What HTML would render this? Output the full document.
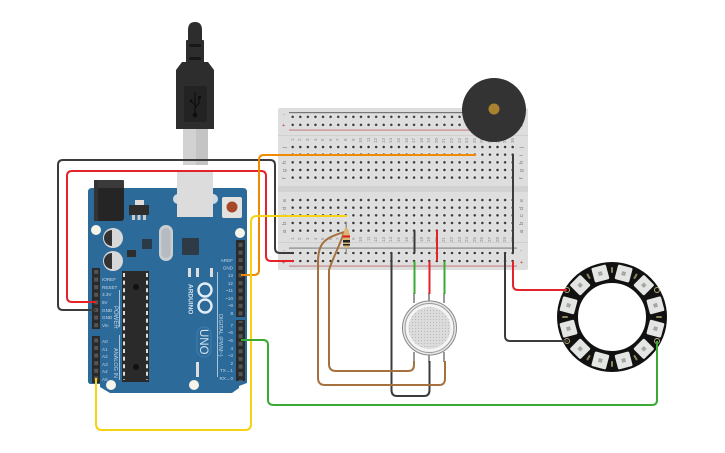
<!DOCTYPE html>
<html><head><meta charset="utf-8"><style>
html,body{margin:0;padding:0;background:#fff}
#w{position:relative;width:725px;height:453px;overflow:hidden;font-family:"Liberation Sans",sans-serif}
svg{position:absolute;left:0;top:0}
.n{position:absolute;left:288.9px;display:flex;height:8px}
.n i{display:block;width:7.586px;font:normal 4.5px/7.586px "Liberation Sans",sans-serif;color:#8a8a8a;writing-mode:vertical-rl;transform:rotate(180deg);text-align:center}
text{font-family:"Liberation Sans",sans-serif}
.b{font-size:4.6px;fill:#c6d9e7}
.e{font-size:5.5px;fill:#777}
.w{fill:none;stroke-width:2;stroke-linejoin:round;stroke-linecap:butt}
</style></head><body><div id="w">
<svg width="725" height="453">
<defs>
<pattern id="d" width="7.586" height="7.65" patternUnits="userSpaceOnUse" x="288.9" y="143.2"><circle cx="3.8" cy="3.8" r="2.4" fill="#e8e8e8"/><circle cx="3.8" cy="3.8" r="1.3" fill="#3a3a3a"/></pattern>
<pattern id="d2" width="7.586" height="7.65" patternUnits="userSpaceOnUse" x="288.9" y="196.2"><circle cx="3.8" cy="3.8" r="2.4" fill="#e8e8e8"/><circle cx="3.8" cy="3.8" r="1.3" fill="#3a3a3a"/></pattern>
<pattern id="r" width="7.586" height="8" patternUnits="userSpaceOnUse" x="288.9" y="112.8"><circle cx="3.8" cy="4" r="2.4" fill="#e8e8e8"/><circle cx="3.8" cy="4" r="1.3" fill="#3a3a3a"/></pattern>
<pattern id="r2" width="7.586" height="8" patternUnits="userSpaceOnUse" x="288.9" y="249"><circle cx="3.8" cy="4" r="2.4" fill="#e8e8e8"/><circle cx="3.8" cy="4" r="1.3" fill="#3a3a3a"/></pattern>
</defs>
<rect x="278" y="108" width="250" height="162" rx="2" fill="#dedede"/>
<rect x="278" y="135" width="250" height="1" fill="#d0d0d0"/>
<rect x="278" y="186" width="250" height="6" fill="#d2d2d2"/>
<rect x="278" y="242" width="250" height="1" fill="#d0d0d0"/>
<rect x="289" y="112" width="224" height="1.2" fill="#777"/>
<rect x="289" y="129.5" width="224" height="1.2" fill="#c98a8a"/>
<rect x="289" y="247.5" width="228" height="1.2" fill="#8a8a8a"/>
<rect x="289" y="265.5" width="228" height="1.2" fill="#c98a8a"/>
<rect x="288.9" y="112.8" width="227.6" height="16" fill="url(#r)"/>
<rect x="288.9" y="249" width="227.6" height="16" fill="url(#r2)"/>
<rect x="288.9" y="143.2" width="227.6" height="38.25" fill="url(#d)"/>
<rect x="288.9" y="196.2" width="227.6" height="38.25" fill="url(#d2)"/>
<text class="e" x="283" y="116">-</text><text class="e" x="282" y="127" style="fill:#b33">+</text>
<text class="e" x="520" y="116">-</text><text class="e" x="520" y="127" style="fill:#b33">+</text>
<text class="e" x="283" y="252">-</text><text class="e" x="282" y="264" style="fill:#b33">+</text>
<text class="e" x="520" y="252">-</text><text class="e" x="520" y="264" style="fill:#b33">+</text>
<text class="e" transform="translate(286,148) rotate(-90)">j</text><text class="e" transform="translate(286,156) rotate(-90)">i</text><text class="e" transform="translate(286,164) rotate(-90)">h</text><text class="e" transform="translate(286,172) rotate(-90)">g</text><text class="e" transform="translate(286,179) rotate(-90)">f</text>
<text class="e" transform="translate(286,202) rotate(-90)">e</text><text class="e" transform="translate(286,210) rotate(-90)">d</text><text class="e" transform="translate(286,217) rotate(-90)">c</text><text class="e" transform="translate(286,225) rotate(-90)">b</text><text class="e" transform="translate(286,233) rotate(-90)">a</text>
<text class="e" transform="translate(523,148) rotate(-90)">j</text><text class="e" transform="translate(523,156) rotate(-90)">i</text><text class="e" transform="translate(523,164) rotate(-90)">h</text><text class="e" transform="translate(523,172) rotate(-90)">g</text><text class="e" transform="translate(523,179) rotate(-90)">f</text>
<text class="e" transform="translate(523,202) rotate(-90)">e</text><text class="e" transform="translate(523,210) rotate(-90)">d</text><text class="e" transform="translate(523,217) rotate(-90)">c</text><text class="e" transform="translate(523,225) rotate(-90)">b</text><text class="e" transform="translate(523,233) rotate(-90)">a</text>
</svg>
<div class="n" style="top:136px"><i>1</i><i>2</i><i>3</i><i>4</i><i>5</i><i>6</i><i>7</i><i>8</i><i>9</i><i>10</i><i>11</i><i>12</i><i>13</i><i>14</i><i>15</i><i>16</i><i>17</i><i>18</i><i>19</i><i>20</i><i>21</i><i>22</i><i>23</i><i>24</i><i>25</i><i>26</i><i>27</i><i>28</i><i>29</i><i>30</i></div>
<div class="n" style="top:235px"><i>1</i><i>2</i><i>3</i><i>4</i><i>5</i><i>6</i><i>7</i><i>8</i><i>9</i><i>10</i><i>11</i><i>12</i><i>13</i><i>14</i><i>15</i><i>16</i><i>17</i><i>18</i><i>19</i><i>20</i><i>21</i><i>22</i><i>23</i><i>24</i><i>25</i><i>26</i><i>27</i><i>28</i><i>29</i><i>30</i></div>
<svg width="725" height="453">
<defs>
<g id="led"><rect x="604.5" y="264.5" width="15" height="15" rx="1.5" fill="#e4e6e4"/><rect x="610" y="270" width="4" height="4" fill="#a5a7a5"/></g>
<g id="tab"><rect x="611" y="267" width="2" height="6" rx="1" fill="#8f8660"/></g>
<pattern id="h" width="8" height="7.6" patternUnits="userSpaceOnUse" x="92" y="268"><rect x="2.2" y="2" width="4" height="4" fill="#555"/></pattern>
<pattern id="h2" width="9" height="7.6" patternUnits="userSpaceOnUse" x="236" y="241"><rect x="2.5" y="2" width="4" height="4" fill="#555"/></pattern>
<pattern id="p" width="3" height="3" patternUnits="userSpaceOnUse"><circle cx="1.5" cy="1.5" r=".6" fill="#bbb"/></pattern>
</defs>
<!-- USB plug -->
<rect x="183" y="129" width="25" height="36" fill="#d2d2d2"/><rect x="196" y="129" width="12" height="36" fill="#c4c4c4"/>
<path d="M188 41V30q0-8 7-8t7 8V41z" fill="#2d2d2d"/>
<rect x="186" y="40" width="18" height="23" rx="1" fill="#2d2d2d"/>
<rect x="189" y="44" width="12" height="3" rx="1.5" fill="#171717"/><rect x="189" y="57" width="12" height="3" rx="1.5" fill="#171717"/>
<path d="M182 62H208L214 70V129H176V70Z" fill="#2d2d2d"/>
<rect x="184" y="86" width="23" height="36" fill="#232323"/>
<path d="M195 92V113M195 105L191 101V99M195 108L199 103V97" fill="none" stroke="#0f0f0f" stroke-width="1.2"/>
<circle cx="195" cy="115" r="2.4" fill="#0f0f0f"/><circle cx="191" cy="101" r="1.4" fill="#0f0f0f"/><rect x="198" y="96" width="3" height="3" fill="#0f0f0f"/>
<!-- Arduino board -->
<path d="M92 188H243Q247 188 247 192V383L239 386V388L232 393H110L100 387V384H91Q88 384 88 381V192Q88 188 92 188Z" fill="#2c6a9a"/>
<rect x="94" y="180" width="30" height="41" rx="3" fill="#252525"/><rect x="96" y="180" width="28" height="8" rx="1" fill="#3a3a3a"/><rect x="94" y="180" width="4" height="41" fill="#333"/>
<ellipse cx="178" cy="199" rx="5" ry="5" fill="#cfdbe4"/><ellipse cx="213" cy="199" rx="5" ry="5" fill="#cfdbe4"/>
<rect x="177" y="170" width="36" height="47" fill="#dcdcdc"/>
<rect x="222" y="197" width="20" height="21" rx="2" fill="#e4e2de"/><circle cx="232" cy="207" r="5.5" fill="#a8482a"/>
<rect x="135" y="200" width="9" height="5" fill="#ddd"/><rect x="129" y="205" width="20" height="10" fill="#2d2d2d"/><rect x="132" y="215" width="3" height="5" fill="#ccc"/><rect x="137.5" y="215" width="3" height="5" fill="#ccc"/><rect x="143" y="215" width="3" height="5" fill="#ccc"/>
<circle cx="96" cy="230" r="5" fill="#f7f5ea"/><circle cx="240" cy="233" r="5" fill="#f7f5ea"/><circle cx="111" cy="385" r="5" fill="#f7f5ea"/><circle cx="194" cy="385" r="5" fill="#f7f5ea"/>
<circle cx="113" cy="238" r="10" fill="#d8d8d8"/><path d="M112 230a8 8 0 0 0 0 16z" fill="#333"/><circle cx="113" cy="261" r="10" fill="#d8d8d8"/><path d="M112 253a8 8 0 0 0 0 16z" fill="#333"/>
<rect x="159" y="225" width="14" height="36" rx="7" fill="#c9ced2"/><rect x="161.5" y="228" width="9" height="30" rx="4.5" fill="#b5bbc0"/>
<rect x="142" y="239" width="10" height="10" fill="#2b3a46"/>
<rect x="182" y="238" width="17" height="17" rx="1" fill="#2e3a45"/>
<rect x="127" y="250" width="9" height="7" fill="#2d2d2d"/>
<rect x="188" y="268" width="3" height="9" fill="#ddd"/><rect x="196" y="268" width="3" height="9" fill="#ddd"/><rect x="210" y="268" width="3" height="9" fill="#ddd"/>
<rect x="196" y="362" width="3" height="15" fill="#ddd"/>
<!-- headers -->
<rect x="236" y="240" width="9" height="77" fill="#2a2a2a"/><rect x="236" y="320" width="9" height="61" fill="#2a2a2a"/>
<rect x="236" y="241" width="9" height="76" fill="url(#h2)"/><rect x="236" y="321" width="9" height="60" fill="url(#h2)"/>
<rect x="92" y="268" width="8" height="61" fill="#2a2a2a"/><rect x="92" y="336" width="8" height="47" fill="#2a2a2a"/>
<rect x="92" y="268" width="8" height="61" fill="url(#h)"/><rect x="92" y="336" width="8" height="47" fill="url(#h)"/>
<!-- chip -->
<rect x="122" y="271" width="27" height="111" fill="#2a2a2a"/>
<path d="M124 273V380M147 273V380" stroke="#ddd" stroke-width="2" stroke-dasharray="4 3.600"/>
<circle cx="136" cy="287" r="3" fill="#111"/><circle cx="136" cy="367" r="3" fill="#111"/>
<!-- logo -->
<g fill="none" stroke="#e4edf3" stroke-width="2.4"><circle cx="205" cy="290" r="6.5"/><circle cx="205" cy="306" r="6.5"/></g>
<text transform="translate(188.5,284) rotate(90)" font-size="6.5" font-weight="bold" fill="#d5e3ee">ARDUINO</text>
<rect x="197" y="327" width="14" height="30" rx="7" fill="none" stroke="#3f7eaf"/>
<text transform="translate(200,329) rotate(90)" font-size="11.500" fill="#d5e3ee">UNO</text>
<text class="b" x="233" y="262" text-anchor="end">AREF</text>
<text class="b" x="233" y="269.500" text-anchor="end">GND</text><text class="b" x="233" y="277" text-anchor="end">13</text><text class="b" x="233" y="285" text-anchor="end">12</text><text class="b" x="233" y="292" text-anchor="end">~11</text><text class="b" x="233" y="300" text-anchor="end">~10</text><text class="b" x="233" y="307" text-anchor="end">~9</text><text class="b" x="233" y="315" text-anchor="end">8</text>
<text class="b" x="233" y="327" text-anchor="end">7</text><text class="b" x="233" y="334" text-anchor="end">~6</text><text class="b" x="233" y="342" text-anchor="end">~5</text><text class="b" x="233" y="350" text-anchor="end">4</text><text class="b" x="233" y="357" text-anchor="end">~3</text><text class="b" x="233" y="365" text-anchor="end">2</text><text class="b" x="233" y="372" text-anchor="end">TX→1</text><text class="b" x="233" y="380" text-anchor="end">RX←0</text>
<text class="b" x="102" y="281">IOREF</text><text class="b" x="102" y="289">RESET</text><text class="b" x="102" y="296">3.3V</text><text class="b" x="102" y="304">5V</text><text class="b" x="102" y="312">GND</text><text class="b" x="102" y="319">GND</text><text class="b" x="102" y="327">Vin</text>
<text class="b" x="102" y="343">A0</text><text class="b" x="102" y="351">A1</text><text class="b" x="102" y="358">A2</text><text class="b" x="102" y="366">A3</text><text class="b" x="102" y="373">A4</text><text class="b" x="102" y="381">A5</text>
<text class="b" transform="translate(114,306) rotate(90)" style="font-size:6px">POWER</text>
<text class="b" transform="translate(114,348) rotate(90)" style="font-size:5.5px">ANALOG IN</text>
<text class="b" transform="translate(219,314) rotate(90)" style="font-size:5.5px">DIGITAL (PWM~)</text>
<rect x="119" y="290" width="1" height="37" fill="#a9c4d8"/><rect x="119" y="335" width="1" height="45" fill="#a9c4d8"/><rect x="217" y="272" width="1" height="105" fill="#a9c4d8"/>
<!-- ring -->
<circle cx="612" cy="317" r="44.5" fill="none" stroke="#111" stroke-width="21"/>
<use href="#led" transform="rotate(15 612 317)"/><use href="#led" transform="rotate(45 612 317)"/><use href="#led" transform="rotate(75 612 317)"/><use href="#led" transform="rotate(105 612 317)"/><use href="#led" transform="rotate(135 612 317)"/><use href="#led" transform="rotate(165 612 317)"/><use href="#led" transform="rotate(195 612 317)"/><use href="#led" transform="rotate(225 612 317)"/><use href="#led" transform="rotate(255 612 317)"/><use href="#led" transform="rotate(285 612 317)"/><use href="#led" transform="rotate(315 612 317)"/><use href="#led" transform="rotate(345 612 317)"/>
<use href="#tab"/><use href="#tab" transform="rotate(30 612 317)"/><use href="#tab" transform="rotate(90 612 317)"/><use href="#tab" transform="rotate(150 612 317)"/><use href="#tab" transform="rotate(180 612 317)"/><use href="#tab" transform="rotate(210 612 317)"/><use href="#tab" transform="rotate(270 612 317)"/><use href="#tab" transform="rotate(330 612 317)"/>
<circle cx="567" cy="290" r="2.5" fill="#111" stroke="#b9ad7c"/><circle cx="567" cy="341" r="2.5" fill="#111" stroke="#b9ad7c"/><circle cx="657" cy="341" r="2.5" fill="#111" stroke="#b9ad7c"/><circle cx="657" cy="290" r="2.5" fill="#111" stroke="#b9ad7c"/>
<!-- sensor -->
<rect x="413" y="293" width="2" height="10" fill="#999"/><rect x="428" y="293" width="2" height="10" fill="#999"/><rect x="443" y="293" width="2" height="10" fill="#999"/>
<rect x="413" y="352" width="2" height="10" fill="#999"/><rect x="428" y="352" width="2" height="10" fill="#999"/><rect x="443" y="352" width="2" height="10" fill="#999"/>
<circle cx="429.5" cy="328" r="27" fill="#e8e8e8" stroke="#888"/><circle cx="429.5" cy="328" r="24.5" fill="#f4f4f4" stroke="#999"/><circle cx="429.5" cy="328" r="21" fill="#dcdcdc"/><circle cx="429.5" cy="328" r="21" fill="url(#p)"/>
<!-- buzzer -->
<circle cx="494" cy="110" r="32" fill="#333"/><circle cx="494" cy="109" r="5.5" fill="#a9822f"/>
<!-- resistor leads -->
<rect x="345.5" y="222" width="1.5" height="32" fill="#999"/>
<!-- wires -->
<path class="w" stroke="#3b3b3b" d="M96 310H63Q58 310 58 305V165Q58 160 63 160H270Q275 160 275 165V248Q275 253 280 253H294"/>
<path class="w" stroke="#e3222a" d="M96 302H72Q67 302 67 297V176Q67 171 72 171H261Q266 171 266 176V256Q266 261 271 261H294"/>
<path class="w" stroke="#f08a00" d="M241 275H254Q259 275 259 270V160Q259 155 264 155H476"/>
<path class="w" stroke="#f5d312" d="M96 378V424Q96 430 102 430H245Q251 430 251 424V222Q251 216 257 216H347"/>
<path class="w" stroke="#3aaa35" d="M241 340H263Q268 340 268 345V400Q268 405 274 405H652Q657 405 657 400V341"/>
<path class="w" stroke="#3b3b3b" d="M513 154V253"/>
<path class="w" stroke="#3b3b3b" d="M505 253V336Q505 341 510 341H568"/>
<path class="w" stroke="#e3222a" d="M513 261V285Q513 290 518 290H567"/>
<path class="w" stroke="#3b3b3b" d="M414.5 230V253"/>
<path class="w" stroke="#e3222a" d="M437 230V261"/>
<path class="w" stroke="#3aaa35" d="M414.5 261V294"/>
<path class="w" stroke="#e3222a" d="M429.5 261V294"/>
<path class="w" stroke="#3aaa35" d="M444.5 261V294"/>
<path class="w" stroke="#3b3b3b" d="M391.5 253V390Q391.5 396 397 396H424Q429.5 396 429.5 390V361"/>
<path class="w" stroke="#a5713f" d="M344 232C335 235 325 238 321 246Q318 252 318 262V378Q318 385 325 385H439Q445 385 445 379V361"/>
<path class="w" stroke="#a5713f" d="M344 232C340 245 332 260 329 270V364Q329 371 336 371H408Q414 371 414 365V361"/>
<!-- resistor -->
<path d="M344 232Q344 228 346.200 228Q348.500 228 349 232L350 235V243Q350 248 346.200 248Q343 248 343 243V235Z" fill="#d9b675"/>
<rect x="343" y="235.500" width="7" height="2" fill="#e01515"/><rect x="343" y="240" width="7" height="2.500" fill="#222"/><rect x="343" y="244" width="7" height="1.500" fill="#222"/>
</svg>
</div></body></html>
